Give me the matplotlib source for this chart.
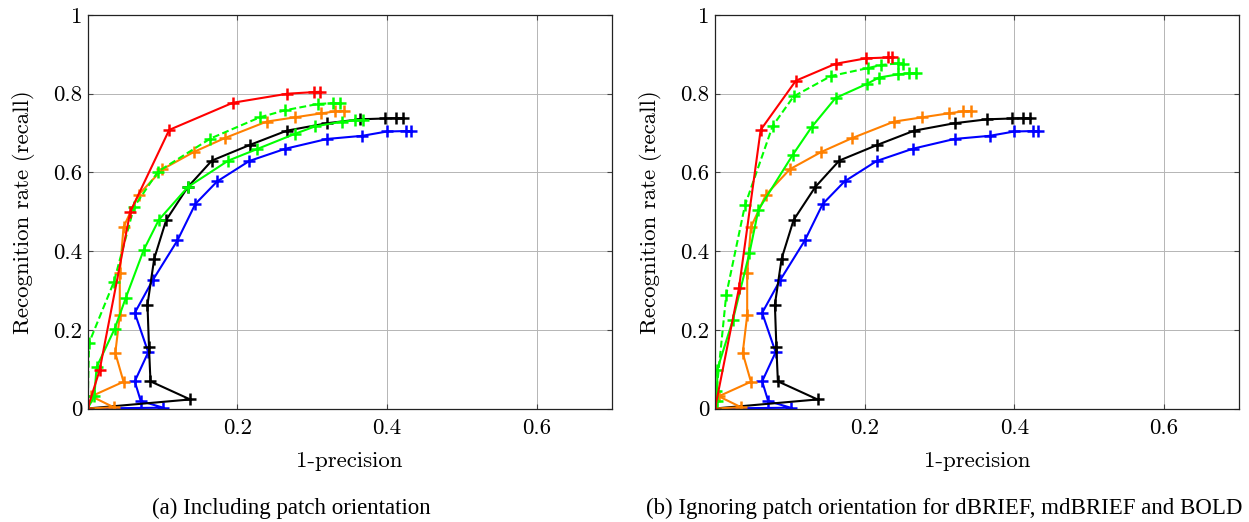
import matplotlib

matplotlib.use("Agg")
import matplotlib.pyplot as plt

# ---- data (x = 1-precision, y = recall) ----
# orange / black / blue are the same in both panels
orange_x = [0.0, 0.035, 0.005, 0.048, 0.037, 0.043, 0.043, 0.048, 0.068, 0.100, 0.142, 0.183, 0.239, 0.277, 0.312, 0.331, 0.342]
orange_y = [0.0, 0.003, 0.031, 0.068, 0.141, 0.237, 0.344, 0.461, 0.543, 0.608, 0.652, 0.687, 0.729, 0.740, 0.750, 0.755, 0.756]

black_x = [0.0, 0.137, 0.084, 0.082, 0.080, 0.089, 0.105, 0.134, 0.166, 0.217, 0.266, 0.320, 0.364, 0.397, 0.412, 0.421]
black_y = [0.0, 0.023, 0.069, 0.156, 0.264, 0.381, 0.479, 0.563, 0.630, 0.670, 0.706, 0.725, 0.735, 0.737, 0.738, 0.738]

blue_x = [0.0, 0.101, 0.071, 0.063, 0.081, 0.063, 0.087, 0.120, 0.144, 0.173, 0.216, 0.264, 0.320, 0.367, 0.400, 0.425, 0.432]
blue_y = [0.0, 0.002, 0.019, 0.069, 0.143, 0.243, 0.326, 0.427, 0.520, 0.577, 0.629, 0.660, 0.685, 0.693, 0.704, 0.705, 0.705]

# (a) including patch orientation
red_a_x = [0.0, 0.016, 0.057, 0.109, 0.194, 0.267, 0.302, 0.311]
red_a_y = [0.0, 0.097, 0.500, 0.708, 0.777, 0.800, 0.804, 0.805]

green_a_x = [0.0, 0.009, 0.012, 0.036, 0.051, 0.075, 0.095, 0.134, 0.188, 0.226, 0.277, 0.304, 0.340, 0.357, 0.368]
green_a_y = [0.0, 0.031, 0.105, 0.202, 0.281, 0.403, 0.479, 0.563, 0.630, 0.659, 0.698, 0.717, 0.729, 0.732, 0.734]

gdash_a_x = [0.0, 0.002, 0.035, 0.062, 0.094, 0.164, 0.230, 0.264, 0.308, 0.328, 0.337]
gdash_a_y = [0.0, 0.167, 0.321, 0.512, 0.602, 0.686, 0.740, 0.758, 0.774, 0.776, 0.776]

# (b) ignoring patch orientation
red_b_x = [0.0, 0.032, 0.061, 0.108, 0.161, 0.202, 0.231, 0.237]
red_b_y = [0.0, 0.306, 0.708, 0.833, 0.876, 0.890, 0.892, 0.892]

green_b_x = [0.0, 0.003, 0.003, 0.024, 0.046, 0.058, 0.104, 0.129, 0.161, 0.203, 0.219, 0.244, 0.259, 0.269]
green_b_y = [0.0, 0.019, 0.099, 0.226, 0.395, 0.505, 0.645, 0.715, 0.789, 0.825, 0.841, 0.849, 0.852, 0.852]

gdash_b_x = [0.0, 0.002, 0.015, 0.040, 0.077, 0.105, 0.155, 0.204, 0.222, 0.244, 0.251]
gdash_b_y = [0.0, 0.044, 0.289, 0.516, 0.718, 0.793, 0.845, 0.865, 0.873, 0.877, 0.876]

x_ticks = [0.2, 0.4, 0.6]
y_ticks = [0, 0.2, 0.4, 0.6, 0.8, 1]
y_tick_labels = ["0", "0.2", "0.4", "0.6", "0.8", "1"]
captions = ["(a) Including patch orientation",
            "(b) Ignoring patch orientation for dBRIEF, mdBRIEF and BOLD"]

plt.rcParams["font.family"] = "cmr10"
plt.rcParams["axes.formatter.use_mathtext"] = True

W, H = 1249, 522
fig = plt.figure(figsize=(W / 100, H / 100), dpi=100)

style = dict(lw=1.5, marker="+", ms=8.5, mew=1.8)


def draw_panel(ax, red, green, gdash):
    ax.plot(blue_x, blue_y, color="#0000ff", **style)
    ax.plot(black_x, black_y, color="black", **style)
    ax.plot(orange_x, orange_y, color="#ff8000", **style)
    ax.plot(green[0], green[1], color="#00ff00", **style)
    ax.plot(gdash[0], gdash[1], color="#00ff00", dashes=(3.3, 1.6), **style)
    ax.plot(red[0], red[1], color="#ff0000", **style)

    ax.set_xlim(0, 0.7)
    ax.set_ylim(0, 1)
    ax.set_xticks(x_ticks)
    ax.set_xticklabels([str(t) for t in x_ticks])
    ax.set_yticks(y_ticks)
    ax.set_yticklabels(y_tick_labels)
    ax.grid(True, color="#b5b5b5", lw=0.7)
    ax.set_axisbelow(True)
    ax.tick_params(direction="in", length=3.5, width=0.8, color="#444444",
                   top=True, right=True, labelsize=16.5)
    ax.tick_params(axis="y", pad=4)
    ax.tick_params(axis="x", pad=7)
    for sp in ax.spines.values():
        sp.set_color("#222222")
        sp.set_linewidth(0.9)
    ax.set_xlabel("1-precision", fontsize=16.5, labelpad=10)
    ax.set_ylabel("Recognition rate (recall)", fontsize=16.5, labelpad=13)


ax_w = 524 / W
ax_h = 393.5 / H
bottom = 1 - 408.5 / H
ax_a = fig.add_axes([87.6 / W, bottom, ax_w, ax_h])
ax_b = fig.add_axes([715 / W, bottom, ax_w, ax_h])

draw_panel(ax_a, (red_a_x, red_a_y), (green_a_x, green_a_y), (gdash_a_x, gdash_a_y))
draw_panel(ax_b, (red_b_x, red_b_y), (green_b_x, green_b_y), (gdash_b_x, gdash_b_y))

fig.text(291 / W, 1 - 508 / H, captions[0], ha="center", va="center",
         fontsize=16.5, family="Liberation Serif")
fig.text(944 / W, 1 - 508 / H, captions[1], ha="center", va="center",
         fontsize=16.5, family="Liberation Serif")

fig.savefig("out.png", dpi=100)
